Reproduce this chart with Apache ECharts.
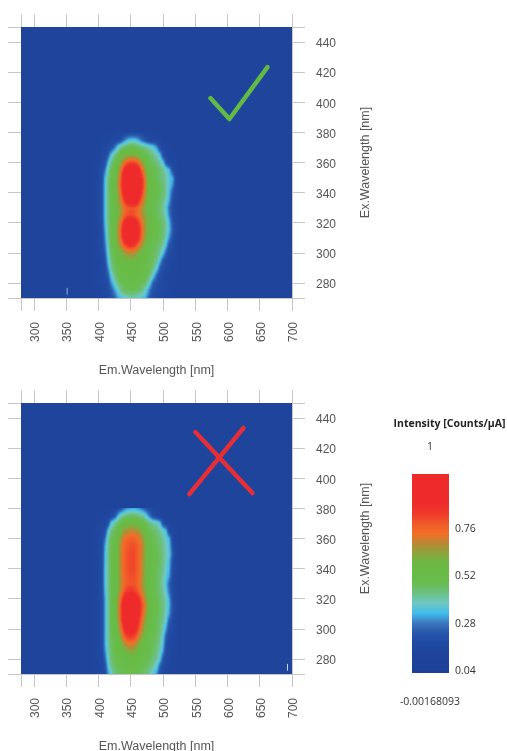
<!DOCTYPE html>
<html>
<head>
<meta charset="utf-8">
<style>
html,body{margin:0;padding:0;background:#fff}
#c{width:507px;height:751px;filter:blur(0.4px)}
</style>
<script src="https://cdn.jsdelivr.net/npm/echarts@6/dist/echarts.min.js"></script>
</head>
<body>
<div id="c"></div>
<script>
const emColumns = [395,400,405,410,415,420,425,430,435,440,445,450,455,460,465,470,475,480,485,490,495,500,505,510,515,520,525];
const exRows = [380,375,370,365,360,355,350,345,340,335,330,325,320,315,310,305,300,295,290,285,280,275,270];
const xTickValues = [280,300,350,400,450,500,550,600,650,700];
const xLabelValues = [300,350,400,450,500,550,600,650,700];
const yTickValues = [270,280,300,320,340,360,380,400,420,440,450];
const yLabelValues = [280,300,320,340,360,380,400,420,440];
const scaleLabelValues = [0.04,0.28,0.52,0.76];
const scaleLevels = [-0.00168093,0.05,0.1,0.15,0.2,0.25,0.3,0.35,0.4,0.45,0.5,0.55,0.6,0.65,0.7,0.75,0.8,0.85,0.9,0.95,1];
const backgroundLevel = 0.10;
const intensityMin = -0.00168093;
const intensityMax = 1;

// intensity x 100, one line per excitation row, one number per emission column
const goodPanel = [
[10,10,10,10,10,10,11,11,12,12,13,13,13,13,13,12,12,11,11,11,10,10,10,10,10,10,10],
[10,10,11,11,12,13,14,15,18,24,29,32,32,30,26,20,16,14,13,12,11,10,10,10,10,10,10],
[10,11,12,13,14,16,24,33,38,42,44,46,46,44,42,40,38,35,33,26,16,13,12,11,10,10,10],
[10,11,13,15,20,31,40,46,50,54,56,58,58,56,52,48,45,42,40,36,31,18,14,12,11,10,10],
[11,12,14,18,30,40,46,52,60,70,76,80,80,76,68,58,50,46,43,41,38,33,20,14,12,11,10],
[11,13,16,24,36,44,50,56,70,84,92,96,96,92,82,66,54,49,46,44,42,39,35,31,17,13,11],
[11,13,17,30,40,46,52,60,76,90,97,99,99,97,90,74,58,50,47,44,42,40,37,33,28,14,11],
[11,13,18,31,40,47,53,62,78,92,98,100,100,98,92,76,60,52,48,46,44,42,38,33,26,14,11],
[11,13,18,31,40,46,52,60,74,88,96,100,100,96,88,72,58,52,48,46,44,42,38,31,19,14,11],
[11,13,18,31,40,46,52,58,68,80,90,94,94,90,80,66,56,50,47,45,43,40,36,29,17,13,11],
[11,13,18,31,40,46,51,56,62,70,74,76,76,74,68,60,54,48,46,44,42,38,33,24,15,13,11],
[11,13,18,31,40,46,51,56,62,72,76,78,76,72,68,62,56,50,46,44,42,40,35,26,16,13,11],
[11,13,17,30,40,46,52,60,72,84,92,94,92,86,76,64,58,52,48,46,44,42,38,31,18,14,11],
[11,13,17,28,39,46,53,62,76,90,98,100,98,92,80,66,58,52,48,46,44,42,38,31,20,14,11],
[11,13,16,26,38,45,52,62,74,88,96,98,96,88,78,64,56,50,47,45,43,41,36,27,17,13,11],
[11,13,16,24,36,44,50,58,66,76,82,84,82,76,68,58,52,48,45,43,41,38,31,20,15,12,11],
[11,13,15,21,34,42,48,52,56,60,64,66,64,60,56,52,48,46,44,42,38,32,22,16,14,12,11],
[11,12,14,18,31,40,46,49,52,54,55,56,55,54,52,50,47,45,43,40,31,21,16,14,12,11,10],
[11,12,14,16,26,38,44,47,49,50,51,52,52,51,50,48,46,44,41,33,21,17,14,12,11,11,10],
[11,12,13,15,21,32,41,45,47,48,49,50,50,49,48,47,45,42,34,22,17,15,13,12,11,10,10],
[11,12,13,14,17,26,35,41,44,46,47,48,48,47,46,44,40,32,22,17,15,14,13,12,11,10,10],
[10,11,12,13,15,20,28,34,40,43,44,45,45,44,42,38,31,24,18,16,14,13,12,11,10,10,10],
[10,11,12,13,14,17,22,28,31,33,35,36,36,35,33,31,26,20,17,15,13,12,11,10,10,10,10]
];
const badPanel = [
[10,10,10,10,10,11,12,14,18,22,26,28,28,27,25,21,17,14,12,11,10,10,10,10,10,10,10],
[10,10,11,12,13,14,20,30,36,40,42,43,43,42,40,37,31,24,17,14,12,11,10,10,10,10,10],
[10,11,13,14,17,31,38,43,47,50,52,54,54,52,50,47,43,40,38,35,31,18,13,11,10,10,10],
[11,12,14,17,31,40,45,50,56,62,64,66,66,64,60,54,48,45,43,41,38,35,31,16,12,11,10],
[11,13,15,24,37,44,48,54,62,70,72,74,74,72,68,60,52,48,45,43,41,38,34,31,14,11,10],
[11,13,16,28,38,45,49,56,66,72,75,77,77,75,71,62,54,49,46,44,42,39,36,32,17,13,11],
[11,13,16,30,39,45,50,56,66,73,76,78,78,75,71,62,54,50,47,45,43,40,36,33,20,13,11],
[11,13,17,30,39,45,50,56,66,73,76,78,78,75,71,61,54,50,47,45,43,40,35,31,17,13,11],
[11,13,17,31,39,45,50,56,66,73,76,78,78,75,71,60,54,49,46,44,42,39,34,30,16,13,11],
[11,13,17,31,39,45,50,56,65,72,75,77,77,74,70,60,53,48,46,44,41,38,33,28,15,12,11],
[11,13,17,31,39,45,50,56,64,72,75,76,76,74,69,60,52,48,46,43,41,37,31,23,14,12,11],
[11,13,17,30,39,45,50,57,66,75,80,82,80,76,71,62,54,48,46,44,41,38,33,24,15,12,11],
[11,13,16,28,38,45,51,60,74,86,92,94,92,88,80,68,58,50,47,45,42,40,36,29,16,13,11],
[11,13,16,28,38,45,51,62,78,92,98,100,98,94,84,72,60,52,48,46,43,41,36,30,17,13,11],
[11,13,16,28,38,45,51,62,78,92,98,100,98,92,82,68,58,51,47,45,43,40,35,28,16,13,11],
[11,13,16,28,38,45,50,60,76,88,94,96,94,88,78,64,56,50,46,44,42,39,33,22,15,12,11],
[11,13,16,28,38,44,50,56,70,82,88,90,88,82,72,60,53,48,46,44,41,36,28,17,14,12,11],
[11,13,16,28,38,44,49,53,62,74,80,82,80,74,64,56,50,47,45,43,40,33,22,15,13,11,10],
[11,13,16,28,37,43,48,51,55,62,68,70,68,62,56,52,48,46,44,42,38,31,18,14,12,11,10],
[11,13,16,26,36,42,46,49,51,54,57,60,58,55,51,49,47,45,43,40,36,28,17,14,12,11,10],
[11,13,15,22,34,41,45,47,48,50,51,52,52,50,49,47,45,44,41,38,32,20,15,13,11,10,10],
[11,12,14,18,31,39,43,45,46,47,48,48,48,47,46,45,43,41,38,33,22,16,14,12,11,10,10],
[11,12,14,16,26,34,40,43,44,45,45,46,46,45,44,42,40,37,33,26,17,14,12,11,10,10,10]
];
const checkEm = [573.5,603,662];
const checkEx = [402.8,388.9,423.4];
const crossAEm = [550.2,638.7];
const crossAEx = [430.7,390.2];
const crossBEm = [624.7,540.9];
const crossBEx = [433.4,389.5];
const speckAEm = [351.5,351.5];
const speckBEm = [693,693];
const speckEx = [272.5,276.5];

const palette = ['#1d3f98','#1e4199','#1f449c','#204aa2','#2655aa','#3a77bd','#40bdec','#6fc9c4','#6cc084','#69bd50','#67bc45','#6cb945','#8ea53c','#b58a35','#f27026','#f15a29','#ef3a2b','#ee2b2b','#ee2a2b','#ee2a2b','#ee2a2b'];

const chart = echarts.init(document.getElementById('c'), null, {renderer:'canvas'});

function colourOf(v){
  const t=Math.min(1,Math.max(0,(v-intensityMin)/(intensityMax-intensityMin)));
  return echarts.color.lerp(t, palette);
}
function cellsFor(panel){
  // [emLeft, emRight, exTop, exBottom, valueTL, valueTR, valueBL, valueBR]
  const b=backgroundLevel;
  const cells = [[280,700,450,270,b,b,b,b]];
  for(let r=0;r<exRows.length-1;r++){
    for(let c=0;c<emColumns.length-1;c++){
      cells.push([emColumns[c],emColumns[c+1],exRows[r],exRows[r+1],
        panel[r][c]/100,panel[r][c+1]/100,panel[r+1][c]/100,panel[r+1][c+1]/100]);
    }
  }
  return cells;
}
function scaleCells(){
  const cells=[];
  for(let i=scaleLevels.length-1;i>0;i--){
    const t=scaleLevels[i], b=scaleLevels[i-1];
    cells.push([0,1,t,b,t,t,b,b]);
  }
  return cells;
}
function renderCell(params, api){
  const eL=api.value(0), eR=api.value(1), top=api.value(2), bot=api.value(3);
  const tl=api.value(4), tr=api.value(5), bl=api.value(6), br=api.value(7);
  const p=api.coord([eL,top]);
  const s=api.size([eR-eL,top-bot]);
  const x0=Math.round(p[0]), x1=Math.round(p[0]+s[0]);
  const y0=Math.round(p[1]), y1=Math.round(p[1]+s[1]);
  const flat = tl===tr&&tl===bl&&tl===br;
  const n = flat?1:Math.max(1,y1-y0);
  const children=[];
  for(let i=0;i<n;i++){
    const f=(i+0.5)/n;
    const l=tl+(bl-tl)*f, r=tr+(br-tr)*f;
    const stops=[];
    for(let k=0;k<=3;k++){
      stops.push({offset:k/3,color:colourOf(l+(r-l)*k/3)});
    }
    children.push({type:'rect',
      shape:{x:x0,y:y0+(y1-y0)*i/n,width:x1-x0,height:(y1-y0)/n},
      style:{fill:new echarts.graphic.LinearGradient(0,0,1,0,stops)},silent:true});
  }
  return {type:'group',children,silent:true};
}

const axisGrey='#c6c6c6', labelGrey='#555';
const plotFont='"Liberation Sans"';
const scaleFont='"Open Sans"';
const shiftedLabel={a:{padding:[4,0,0,0],color:labelGrey,fontFamily:plotFont,fontSize:12}};
function xAxes(gridIndex){
  const base={type:'value',gridIndex,min:280,max:700,splitLine:{show:false},
    axisLine:{lineStyle:{color:axisGrey,width:1}},
    axisTick:{length:13,customValues:xTickValues,lineStyle:{color:axisGrey,width:1}}};
  return [
    Object.assign({},base,{position:'bottom',name:'Em.Wavelength [nm]',nameLocation:'middle',nameGap:66.5,
      nameTextStyle:{color:labelGrey,fontFamily:plotFont,fontSize:12.5},
      axisLabel:{customValues:xLabelValues,rotate:90,margin:24,formatter:v=>'{a|'+v+'}',rich:shiftedLabel}}),
    Object.assign({},base,{position:'top',axisLabel:{show:false}})
  ];
}
function yAxes(gridIndex){
  const base={type:'value',gridIndex,min:270,max:450,splitLine:{show:false},
    axisLine:{lineStyle:{color:axisGrey,width:1}},
    axisTick:{length:13,customValues:yTickValues,lineStyle:{color:axisGrey,width:1}}};
  return [
    Object.assign({},base,{position:'left',axisLabel:{show:false}}),
    Object.assign({},base,{position:'right',name:'Ex.Wavelength [nm]',nameLocation:'middle',nameGap:67,nameRotate:90,
      nameTextStyle:{color:labelGrey,fontFamily:plotFont,fontSize:12.5},
      axisLabel:{customValues:yLabelValues,margin:24,formatter:v=>'{a|'+v+'}',rich:shiftedLabel}})
  ];
}
function stroke(name,xi,yi,ems,exs,colour,width){
  return {type:'line',name,xAxisIndex:xi,yAxisIndex:yi,data:ems.map((e,i)=>[e,exs[i]]),showSymbol:false,symbol:'none',
    silent:true,animation:false,z:5,lineStyle:{color:colour,width,cap:'round',join:'round'}};
}
function cellSeries(name,xi,yi,data){
  return {type:'custom',name,xAxisIndex:xi,yAxisIndex:yi,renderItem:renderCell,data,clip:true,progressive:0,silent:true,
    encode:{x:[0,1],y:[2,3]}};
}

chart.setOption({
  animation:false,
  backgroundColor:'#fff',
  grid:[
    {left:21,top:27,width:271,height:271,outerBoundsMode:'none'},
    {left:21,top:403,width:271,height:271,outerBoundsMode:'none'},
    {left:412,top:474,width:37,height:199,outerBoundsMode:'none'}
  ],
  xAxis:[...xAxes(0),...xAxes(1),{type:'value',gridIndex:2,show:false,min:0,max:1}],
  yAxis:[...yAxes(0),...yAxes(1),
    {type:'value',gridIndex:2,position:'right',min:0.03,max:1.0355,splitLine:{show:false},
     axisLine:{show:false},axisTick:{show:false},
     axisLabel:{customValues:scaleLabelValues,margin:6,color:'#333',fontFamily:scaleFont,fontSize:10.5,
       formatter:v=>String(v)}},
    {type:'value',gridIndex:2,show:false,min:intensityMin,max:intensityMax}],
  graphic:[
    {type:'text',x:449.5,y:424,style:{text:'Intensity [Counts/µA]',fill:'#222',align:'center',verticalAlign:'middle',font:'bold 10.5px "Open Sans"'}},
    {type:'text',x:430,y:447,style:{text:'1',fill:'#333',align:'center',verticalAlign:'middle',font:'10.5px "Open Sans"'}},
    {type:'text',x:430,y:702,style:{text:'-0.00168093',fill:'#333',align:'center',verticalAlign:'middle',font:'10.5px "Open Sans"'}}
  ],
  series:[
    cellSeries('good',0,0,cellsFor(goodPanel)),
    cellSeries('bad',2,2,cellsFor(badPanel)),
    cellSeries('scale',4,5,scaleCells()),
    stroke('check',0,0,checkEm,checkEx,'#62b946',4.5),
    stroke('crossA',2,2,crossAEm,crossAEx,'#e62e36',4.5),
    stroke('crossB',2,2,crossBEm,crossBEx,'#e62e36',4.5),
    stroke('speckA',0,0,speckAEm,speckEx,'#8fb0d8',1),
    stroke('speckB',2,2,speckBEm,speckEx,'#c9d8ea',1)
  ]
});
</script>
</body>
</html>
